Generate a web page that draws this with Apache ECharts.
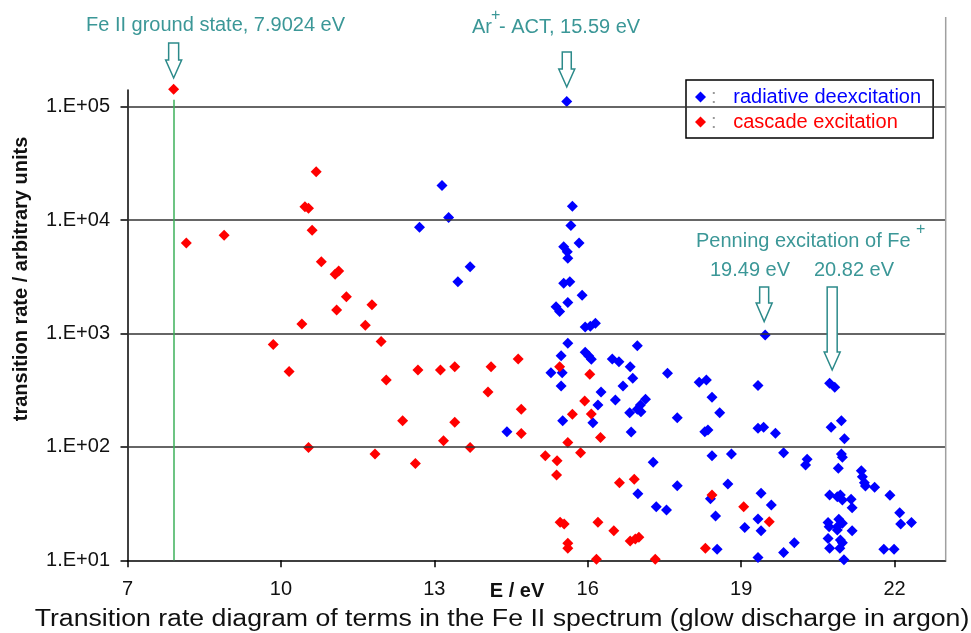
<!DOCTYPE html>
<html><head><meta charset="utf-8">
<script src="https://cdn.jsdelivr.net/npm/echarts@6/dist/echarts.min.js"></script>
<style>html,body{margin:0;padding:0;background:#fff}#c{width:971px;height:633px}</style>
</head><body><div id="c"></div>
<script>
// E / eV, transition rate (arbitrary units)
var radiative = [
[15.59,111000],[13.15,20100],[13.28,10500],[12.71,8650],[13.70,3880],[13.46,2860],[15.70,13200],[15.67,8930],[15.83,6280],[15.53,5820],[15.60,5260],[15.61,4600],[15.53,2770],[15.65,2850],[15.89,2170],[15.38,1720],[15.45,1560],[15.61,1870],[15.95,1140],[16.05,1160],[16.15,1230],[15.61,820],[15.48,637],[15.95,682],[16.02,633],[16.07,592],[16.97,780],[16.48,596],[16.61,564],[16.83,509],[16.88,403],[15.28,451],[15.50,451],[15.48,344],[16.69,344],[16.26,305],[16.54,259],[16.20,234],[17.13,263],[17.03,234],[16.97,215],[16.82,200],[17.04,204],[15.51,170],[16.10,163],[16.85,135],[14.42,136],[17.28,73.3],[16.98,38.6],[17.34,29.7],[17.54,27.8],[19.47,970],[17.56,446],[18.18,371],[18.32,389],[19.33,347],[18.43,274],[18.58,200],[17.75,181],[18.29,136],[18.35,141],[19.33,146],[19.44,149],[19.67,132],[18.43,83.6],[18.81,86.5],[19.83,88.9],[17.75,45.5],[18.74,47.1],[18.40,34.8],[19.39,39.0],[19.59,30.8],[18.50,24.6],[19.33,23.1],[19.07,19.5],[19.39,18.2],[18.53,12.5],[20.04,14.3],[19.83,11.7],[19.33,10.6],
[20.73,364],[20.83,336],[20.96,170],[20.76,149],[21.02,118],[20.96,86.5],[20.98,80.9],[20.29,77.8],[20.26,69.2],[20.90,64.7],[21.35,61.7],[21.37,54.6],[21.41,48.3],[21.43,45.2],[21.61,44.1],[21.91,37.4],[20.73,37.7],[20.88,36.4],[20.94,37.7],[20.98,34.0],[21.15,34.5],[21.17,29.1],[22.10,26.3],[22.12,20.9],[22.33,21.5],[21.17,18.2],[20.70,21.5],[20.91,23.0],[20.98,21.2],[20.88,19.8],[20.72,19.8],[20.88,18.5],[20.70,15.6],[20.94,15.1],[20.98,14.3],[20.73,12.8],[20.93,12.8],[21.79,12.5],[21.99,12.5],[21.01,10.1]
];
var cascade = [
[7.9024,142000],[8.15,6280],[8.89,7340],[10.69,26700],[10.47,13100],[10.54,12700],[10.61,8130],[10.79,4280],[11.06,3330],[11.13,3560],[11.28,2110],[11.09,1610],[11.78,1790],[10.41,1210],[11.65,1180],[9.85,800],[11.96,847],[10.16,462],[12.06,389],[12.68,477],[13.12,477],[13.40,509],[14.11,509],[14.64,596],[14.05,305],[12.38,170],[14.70,215],[13.40,165],[13.18,113],[14.70,131],[10.54,98.8],[13.70,98.8],[11.84,86.5],[12.63,71.5],[15.17,83.6],[15.45,509],[16.04,436],[15.94,254],[15.70,194],[16.07,195],[16.25,121],[15.61,109],[15.86,88.9],[15.40,75.5],[15.39,56.5],[16.62,48.3],[16.91,51.8],[15.46,21.6],[15.54,20.9],[16.20,21.6],[16.51,18.2],[16.83,14.8],[16.93,15.4],[17.00,16.0],[15.61,14.1],[15.61,12.8],[16.17,10.2],[17.32,10.2],[18.43,37.7],[19.05,29.7],[19.55,21.9],[18.30,12.8]
];
var xTicks = [7, 10, 13, 16, 19, 22];
var yTicks = [10, 100, 1000, 10000, 100000];
var gridValues = [100, 1000, 10000, 100000];
var groundState = 7.9024;
var arrowX = [7.9024, 15.59, 19.45, 20.78];

var FONT = 'Liberation Sans, Arial, sans-serif';
var TEAL = '#3b9797';
var ARROW = '#2c8a8a';

var chart = echarts.init(document.getElementById('c'), null, {renderer:'canvas'});
var option = {
  animation:false,
  backgroundColor:'#fff',
  grid:{left:127.5, right:25.3, top:90, bottom:72.7},
  xAxis:{
    type:'value', min:7, max:23,
    axisLine:{show:true, lineStyle:{color:'#000', width:1.5}},
    axisTick:{show:true, length:7, lineStyle:{color:'#000', width:1.5}, customValues:xTicks},
    axisLabel:{fontSize:20, color:'#111', fontFamily:FONT, margin:19, customValues:xTicks},
    splitLine:{show:false}
  },
  yAxis:{
    type:'log', logBase:10, min:10, max:140000,
    axisLine:{show:true, lineStyle:{color:'#000', width:1.5}},
    axisTick:{show:true, length:7, lineStyle:{color:'#000', width:1.5}, customValues:yTicks},
    axisLabel:{fontSize:20, color:'#111', fontFamily:FONT, margin:17.5, customValues:yTicks,
      formatter:function(v){var e=Math.round(Math.log10(v));return '1.E+'+(e<10?'0':'')+e;}},
    splitLine:{show:false}, minorSplitLine:{show:false}
  },
  legend:{
    orient:'vertical', left:686, top:80, padding:[7,12,6,9], itemGap:5,
    itemWidth:11, itemHeight:11, icon:'diamond',
    borderColor:'#000', borderWidth:1.5, backgroundColor:'#fff',
    data:[{name:'radiative deexcitation', textStyle:{color:'#0000ff'}, itemStyle:{color:'#0000ff', opacity:1}},
          {name:'cascade excitation', textStyle:{color:'#ff0000'}, itemStyle:{color:'#ff0000', opacity:1}}],
    formatter:function(n){return '{c|:}   '+n;},
    textStyle:{fontSize:20, fontFamily:FONT, rich:{c:{color:'#999', fontSize:20, fontFamily:FONT}}}
  },
  series:[
    {type:'scatter', name:'grid', data:[], z:1, silent:true,
      markLine:{silent:true, symbol:'none', label:{show:false}, animation:false,
        lineStyle:{color:'#333', width:1.5, type:'solid'},
        data:gridValues.map(function(v){return {yAxis:v};})}},
    {type:'scatter', name:'radiative deexcitation', data:radiative, symbol:'diamond', symbolSize:11,
      itemStyle:{color:'#0000ff', opacity:1}, z:3, clip:false},
    {type:'scatter', name:'cascade excitation', data:cascade, symbol:'diamond', symbolSize:11,
      itemStyle:{color:'#ff0000', opacity:1}, z:4, clip:false,
      markLine:{silent:true, symbol:'none', label:{show:false}, animation:false,
        lineStyle:{color:'#3cb05a', width:1.5, type:'solid'},
        data:[[{coord:[groundState,10]},{coord:[groundState,115000]}]]}}
  ]
};
chart.setOption(option);

function px(x){return chart.convertToPixel({gridIndex:0}, [x, 1000])[0];}
function arrowShape(cx, top, hs, bottom, sw, hw){
  return {type:'polygon', z:100, shape:{points:[[cx-sw,top],[cx+sw,top],[cx+sw,hs],[cx+hw,hs],[cx,bottom],[cx-hw,hs],[cx-sw,hs]]},
    style:{fill:'#fff', stroke:ARROW, lineWidth:1.5}};
}
function txt(t, x, y, size, color, weight, extra){
  var o = {type:'text', z:100, x:x, y:y, style:{text:t, font:(weight||'normal')+' '+size+'px '+FONT, fill:color,
    align:'left', verticalAlign:'middle', textAlign:'left', textVerticalAlign:'middle'}};
  if(extra){for(var k in extra){o[k]=extra[k];}}
  return o;
}
function ctxt(t, x, y, font, extra){
  var o = {type:'text', z:100, x:x, y:y, style:{text:t, font:font, fill:'#111',
    align:'center', verticalAlign:'middle', textAlign:'center', textVerticalAlign:'middle'}};
  if(extra){for(var k in extra){o[k]=extra[k];}}
  return o;
}
var a0=px(arrowX[0]), a1=px(arrowX[1]), a2=px(arrowX[2]), a3=px(arrowX[3]);
var right = chart.convertToPixel({gridIndex:0},[23,10]);
chart.setOption({graphic:[
  {type:'line', z:5, shape:{x1:right[0], y1:17, x2:right[0], y2:right[1]}, style:{stroke:'#a0a0a0', lineWidth:1.5}},
  {type:'rect', z:2, shape:{x:682, y:102, width:255, height:10}, style:{fill:'#fff'}},
  {type:'rect', z:2, shape:{x:818, y:330, width:33, height:6}, style:{fill:'#fff'}},
  arrowShape(a0, 43, 60, 78, 5, 8),
  arrowShape(a1, 52, 69, 87, 4.5, 8),
  arrowShape(a2, 287, 303, 321.5, 4.5, 8),
  arrowShape(a3, 287, 352, 370, 5, 8),
  txt('Fe II ground state, 7.9024 eV', 86, 25, 20, TEAL),
  txt('Ar', 472, 27, 20, TEAL),
  txt('+', 491, 16, 16, TEAL),
  txt('- ACT, 15.59 eV', 499, 27, 20, TEAL),
  txt('Penning excitation of Fe', 696, 241, 20, TEAL),
  txt('+', 916, 230, 16, TEAL),
  txt('19.49 eV', 710, 270, 20, TEAL),
  txt('20.82 eV', 814, 270, 20, TEAL),
  ctxt('transition rate / arbitrary units', 21, 279, 'bold 20px '+FONT, {rotation:Math.PI/2}),
  ctxt('E / eV', 517, 591, 'bold 20px '+FONT),
  ctxt('Transition rate diagram of terms in the Fe II spectrum (glow discharge in argon)', 502, 620, '23px '+FONT, {scaleX:1.16})
]});
</script></body></html>
